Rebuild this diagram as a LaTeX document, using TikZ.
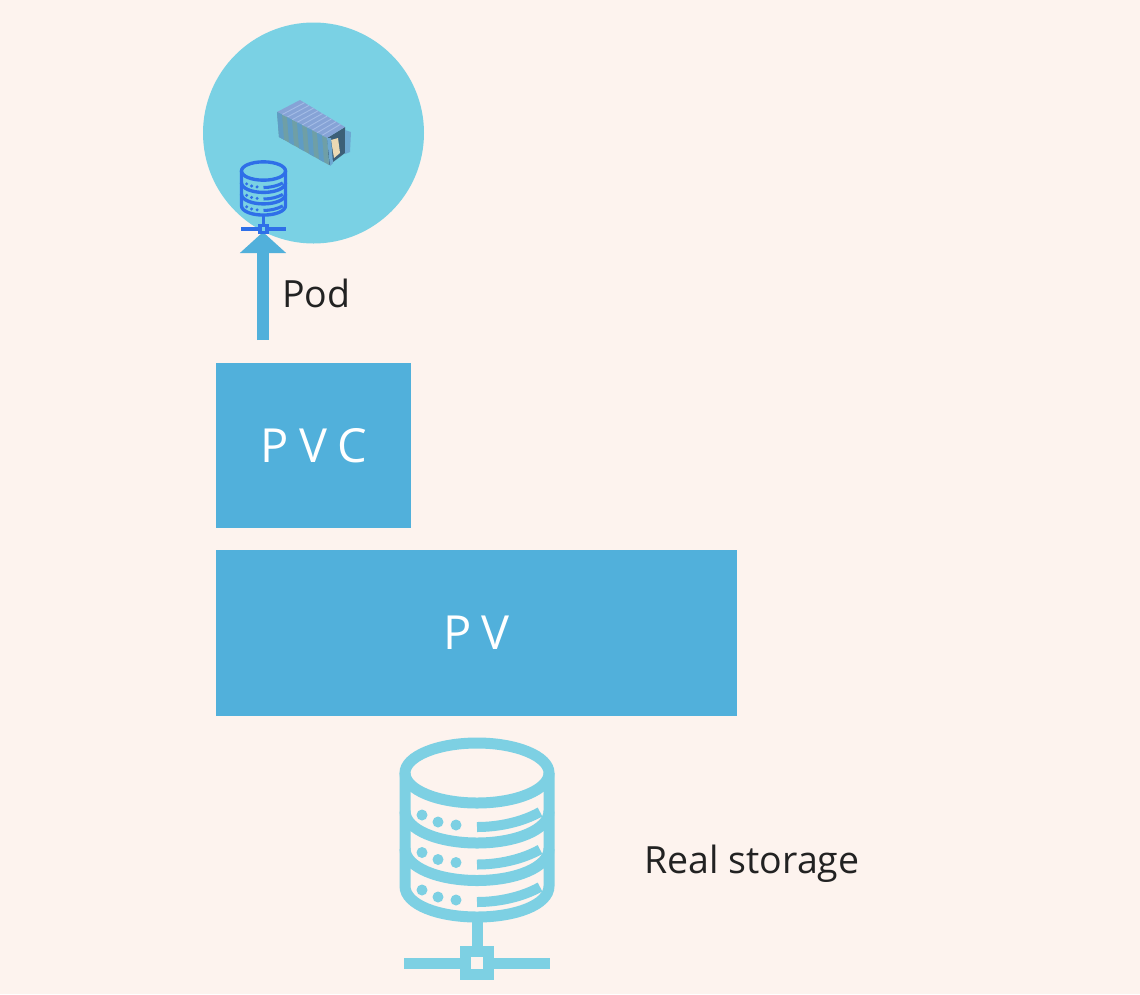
\documentclass[tikz,border=0pt]{standalone}
\usepackage{fontspec}
\usetikzlibrary{calc,arrows.meta}
\setmainfont{Open Sans}
\definecolor{bgc}{HTML}{FDF3EE}
\definecolor{circ}{HTML}{7AD1E4}
\definecolor{boxc}{HTML}{51B0DB}
\definecolor{iconc}{HTML}{7DD0E3}
\definecolor{iconb}{HTML}{2F6FE8}
\definecolor{txtc}{HTML}{222222}
\definecolor{roofc}{HTML}{86A3D6}
\definecolor{roofl}{HTML}{A3BCE6}
\definecolor{sidea}{HTML}{6F9FA6}
\definecolor{sideb}{HTML}{5F9CC4}
\definecolor{inner}{HTML}{3C5F78}
\definecolor{doorc}{HTML}{6DA8D2}
\definecolor{cargo}{HTML}{EBD9B4}
\newcommand{\dbicon}[4]{% x, y, scale, colour (origin = centre of top ellipse)
\begin{scope}[shift={(#1,#2)},x=#3pt,y=-#3pt,draw=#4,fill=#4,line width=#3*11pt]
 \draw (0,0) ellipse [x radius=72,y radius=30];
 \draw (-72,0) -- (-72,113) .. controls (-72,132) and (-38,144) .. (0,144) .. controls (38,144) and (72,132) .. (72,113) -- (72,0);
 \foreach \d in {0,37.5}{
  \draw (-72,\d+38) .. controls (-72,\d+57) and (-38,\d+70) .. (0,\d+70) .. controls (38,\d+70) and (72,\d+57) .. (72,\d+38);
 }
 \foreach \d in {0,37.5,75}{
  \fill (-55,\d+42) circle (5.5);
  \fill (-39,\d+49) circle (5.5);
  \fill (-21,\d+52) circle (5.5);
  \draw[line width=#3*10pt] (0,\d+54) .. controls (22,\d+54) and (45,\d+49) .. (63,\d+39);
 }
 \draw (0,147) -- (0,179);
 \draw (-73,190) -- (-12,190) (12,190) -- (73,190);
 \draw (-11.5,178.5) rectangle (11.5,201.5);
\end{scope}}
\tikzset{
 labeltext/.style={text=txtc,font=\fontsize{37.5}{40}\selectfont,inner sep=0pt,anchor=base},
 boxnode/.style={fill=boxc,draw=none,inner sep=0pt,text=white,font=\fontsize{47}{50}\selectfont\addfontfeature{LetterSpace=22}},
}
\begin{document}
\begin{tikzpicture}[x=1pt,y=-1pt,line join=miter]
\useasboundingbox (0,0) rectangle (1140,994);
\fill[bgc] (0,0) rectangle (1140,994);
\node[circle,fill=circ,draw=none,minimum size=221pt,inner sep=0pt] (pod) at (313.5,133) {};
% container
\begin{scope}
 \fill[fill=inner] (327,138) -- (345,127) -- (345,153) -- (329,165) -- cycle;
 \fill[fill=doorc] (345,130) -- (351,132) -- (350,152) -- (345,154) -- cycle;
 \fill[fill=cargo] (331,140) -- (338,138) -- (340,153) -- (334,158) -- cycle;
 \fill[fill=roofc] (277,112) -- (300,100) -- (345,127) -- (327,138) -- cycle;
 \foreach \i in {1,...,9}{
  \draw[roofl,line width=.9pt] ($(277,112)!\i/10!(327,138)$) -- ($(300,100)!\i/10!(345,127)$);
 }
 \fill[fill=sidea] (277,112) -- (327,138) -- (329,165) -- (279,137) -- cycle;
 \foreach \i in {0,2,4,6,8}{
  \fill[fill=sideb] ($(277,112)!\i/10!(327,138)$) -- ($(277,112)!\i/10+.1!(327,138)$) -- ($(279,137)!\i/10+.1!(329,165)$) -- ($(279,137)!\i/10!(329,165)$) -- cycle;
 }
 \fill[fill=doorc] (327,138) -- (331,138) -- (333,163) -- (330,166) -- cycle;
\end{scope}
% arrow
\coordinate (arrowstart) at (263,340);
\coordinate (arrowend) at (263,232);
\draw[boxc,line width=12pt,-{Triangle[width=45pt,length=21pt]}] (arrowstart) -- (arrowend);
\dbicon{263.5}{171}{0.306}{iconb}
\node[labeltext] (podlabel) at (316.5,307) {Pod};
\node[boxnode,minimum width=195.5pt,minimum height=165pt] (pvc) at (313.7,445.5) {\raisebox{-9pt}{PVC}};
\node[boxnode,minimum width=521.5pt,minimum height=166pt] (pv) at (476.7,633) {\raisebox{-9pt}{PV}};
\dbicon{477}{773}{1}{iconc}
\node[labeltext] (real) at (752,873) {Real storage};
\end{tikzpicture}
\end{document}
